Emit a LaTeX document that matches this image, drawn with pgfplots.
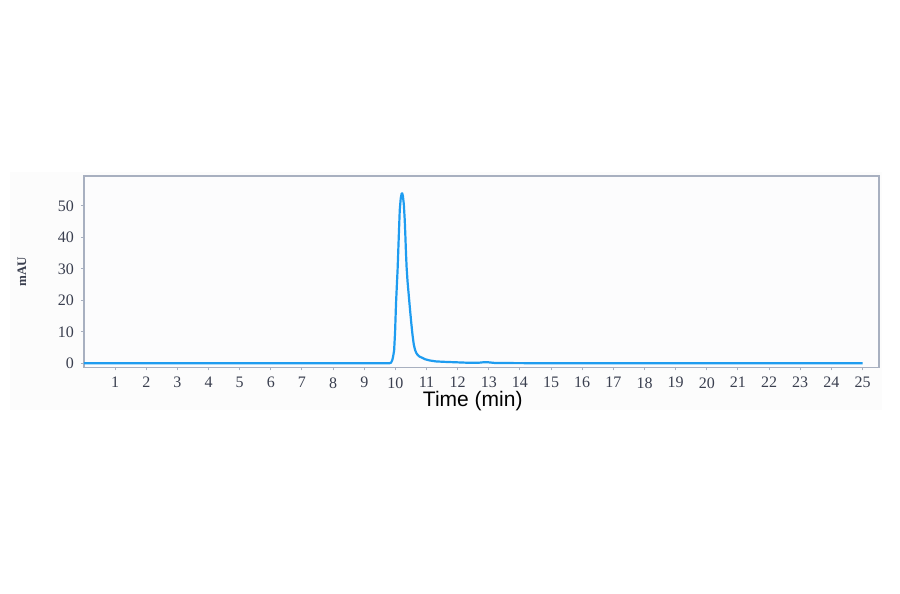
\documentclass[border=0pt]{standalone}
\usepackage{fontspec}
\setmainfont{Liberation Serif}
\newfontfamily\labelsans{Liberation Sans}
\usepackage{pgfplots}
\pgfplotsset{compat=1.18}

\definecolor{trace}{HTML}{1E9CF0}
\definecolor{frame}{HTML}{A8B0C0}
\definecolor{ticktext}{HTML}{3A3F4F}
\definecolor{plotbg}{HTML}{FCFCFD}

\begin{document}
\begin{tikzpicture}
% page of 900x594 px, 1 px = 0.5pt
\path[use as bounding box] (0,0) rectangle (450pt,297pt);
\fill[gray!2] (5pt,92pt) rectangle (441pt,211pt);

\begin{axis}[
    at={(42pt,113.35pt)}, anchor=south west,
    scale only axis,
    width=397.5pt, height=95.65pt,
    xmin=0, xmax=25.53,
    ymin=-1.27, ymax=59.5,
    xtick={1,2,...,25},
    ytick={0,10,20,30,40,50},
    tick align=outside,
    major tick length=1.5pt,
    tick style={frame, line width=0.5pt},
    xtick pos=bottom, ytick pos=left,
    axis line style={frame, line width=0.6pt},
    axis background/.style={fill=plotbg},
    /pgf/number format/assume math mode=true,
    ticklabel style={font=\fontsize{8}{9}\selectfont, text=ticktext},
    xlabel={Time (min)},
    xlabel style={font=\labelsans\fontsize{10.5}{12}\selectfont, text=black,
        anchor=base, at={(axis description cs:0.489,-0.205)}},
    ylabel={mAU},
    ylabel style={font=\bfseries\fontsize{6.5}{8}\selectfont, text=ticktext,
        rotate=0, anchor=center, at={(axis description cs:-0.078,0.5)}},
]
\addplot[trace, line width=1.1pt, line join=round] coordinates {
    (0.00,0.0) (9.00,0.0) (9.80,0.0) (9.86,0.2) (9.90,1.0) (9.93,2.3)
    (9.96,4.2) (9.99,10.0) (10.02,19.0) (10.05,25.5) (10.07,29.6)
    (10.11,40.7) (10.14,48.7) (10.17,52.3) (10.20,53.9) (10.22,54.0)
    (10.24,53.2) (10.27,50.6) (10.30,45.5) (10.32,40.5) (10.34,35.0)
    (10.36,30.5) (10.39,26.0) (10.43,21.5) (10.47,17.0) (10.51,12.8)
    (10.55,9.0) (10.59,6.0) (10.63,4.3) (10.67,3.3) (10.72,2.6)
    (10.78,2.1) (10.85,1.8) (10.95,1.3) (11.10,0.9) (11.30,0.6)
    (11.60,0.45) (12.00,0.3) (12.40,0.15) (12.70,0.2) (12.85,0.35)
    (13.00,0.3) (13.20,0.1) (14.00,0.05) (16.00,0.0) (25.00,0.0)
};
\end{axis}
\end{tikzpicture}
\end{document}
